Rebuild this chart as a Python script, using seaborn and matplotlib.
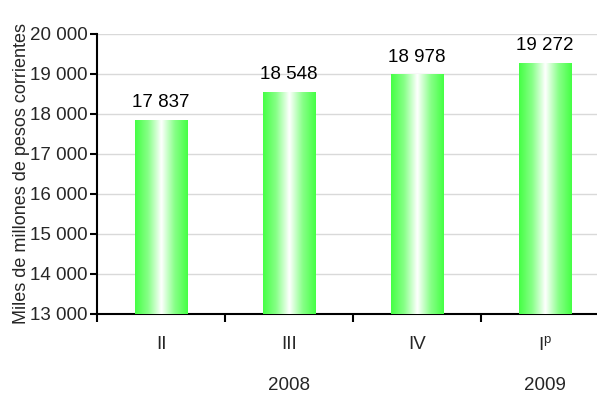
import matplotlib
matplotlib.use("Agg")
import matplotlib.pyplot as plt
import seaborn as sns
import numpy as np
import pandas as pd
from matplotlib.colors import LinearSegmentedColormap

quarters = ["II", "III", "IV", "I$^{p}$"]
values = [17837, 18548, 18978, 19272]
value_labels = ["17 837", "18 548", "18 978", "19 272"]
years = ["2008", "2009"]
year_positions = [1, 3]
yticks = [13000, 14000, 15000, 16000, 17000, 18000, 19000, 20000]
ytick_labels = ["13 000", "14 000", "15 000", "16 000", "17 000", "18 000", "19 000", "20 000"]

sns.set_style("white")
plt.rcParams["font.family"] = ["Liberation Sans", "DejaVu Sans"]
plt.rcParams["mathtext.default"] = "regular"
FS = 13.5

fig = plt.figure(figsize=(5.97, 3.95), dpi=100)
ax = fig.add_axes([97/597, 81/395, 512/597, 280/395])

df = pd.DataFrame({"q": quarters, "v": values})
sns.barplot(data=df, x="q", y="v", ax=ax, width=0.41, color="#55ff55", zorder=2)

ax.set_ylim(13000, 20000)
ax.set_xlim(-0.5, 3.5)

cmap = LinearSegmentedColormap.from_list(
    "g", [(0, "#44ff44"), (0.25, "#88ff88"), (0.5, "#ffffff"), (0.75, "#88ff88"), (1, "#44ff44")])
grad = np.linspace(0, 1, 256).reshape(1, -1)
for p in ax.patches:
    x0 = p.get_x()
    w, h = p.get_width(), p.get_height()
    p.set_alpha(0)
    ax.imshow(grad, cmap=cmap, aspect="auto", extent=[x0, x0 + w, 13000, p.get_y() + h],
              zorder=3, interpolation="bilinear")
ax.set_xlim(-0.5, 3.5)
ax.set_ylim(13000, 20000)

for i, (v, lab) in enumerate(zip(values, value_labels)):
    ax.text(i, v + 230, lab, ha="center", va="bottom", fontsize=FS, color="black")

ax.set_yticks(yticks)
ax.set_yticklabels(ytick_labels, fontsize=FS)
ax.yaxis.grid(True, color="#d9d9d9", linewidth=1, zorder=0)
ax.set_axisbelow(True)

ax.set_xticks([0, 1, 2, 3])
ax.set_xticklabels(quarters, fontsize=FS)
ax.tick_params(axis="x", which="major", bottom=True, length=0, pad=16)
ax.set_xticks([-0.5, 0.5, 1.5, 2.5, 3.5], minor=True)
ax.tick_params(axis="x", which="minor", bottom=True, length=6, width=1.5, direction="out", color="black")
ax.tick_params(axis="y", left=True, length=5, width=1.5, direction="out", color="black", pad=2)

for s in ["top", "right"]:
    ax.spines[s].set_visible(False)
for s in ["left", "bottom"]:
    ax.spines[s].set_color("black")
    ax.spines[s].set_linewidth(1.5)

ax.set_xlabel("")
ax.set_ylabel("Miles de millones de pesos corrientes", fontsize=13, labelpad=0)

for yr, pos in zip(years, year_positions):
    ax.text(pos, -0.255, yr, transform=ax.get_xaxis_transform(), ha="center", va="center", fontsize=FS)

fig.savefig("out.png", dpi=100)
